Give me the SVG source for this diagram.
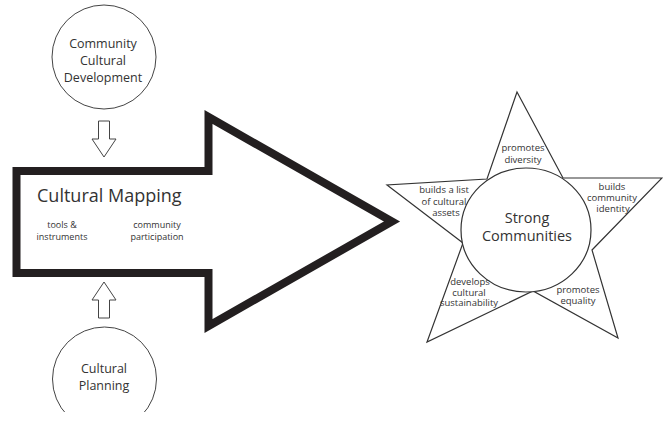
<svg xmlns="http://www.w3.org/2000/svg" width="663" height="423" viewBox="0 0 663 423">
<style>
text{font-family:"Open Sans","Noto Sans","Liberation Sans",sans-serif;fill:#333;text-anchor:middle}
.thin{fill:#fff;stroke:#444;stroke-width:1}
.small{font-size:9px}
.star{font-size:9.5px}
.big{font-size:12.5px}
</style>
<defs>
<clipPath id="pageclip"><rect x="0" y="0" width="663" height="412"/></clipPath>
</defs>
<rect width="663" height="423" fill="#fff"/>
<g id="connectors">
<polygon class="thin" points="98.5,121 109.5,121 109.5,139 116,139 104,157 92,139 98.5,139"/>
<polygon class="thin" points="98.5,318 109.5,318 109.5,300 116,300 104,282 92,300 98.5,300"/>
</g>
<g id="cultural-mapping">
<polygon points="16.5,171 208.5,171 208.5,117 392,221.5 208.5,326 208.5,273 16.5,273" fill="#fff" stroke="#231f20" stroke-width="8"/>
<text x="37" y="202" style="text-anchor:start;font-size:18px">Cultural Mapping</text>
<text class="small" x="62" y="228">tools &amp;</text>
<text class="small" x="62" y="240">instruments</text>
<text class="small" x="157" y="228">community</text>
<text class="small" x="157" y="240">participation</text>
</g>
<g id="ccd">
<circle class="thin" cx="104" cy="57" r="52"/>
<text class="big" x="103" y="48">Community</text>
<text class="big" x="103" y="65">Cultural</text>
<text class="big" x="103" y="82">Development</text>
</g>
<g id="cp">
<circle class="thin" cx="104.5" cy="379" r="52" clip-path="url(#pageclip)"/>
<text class="big" x="104" y="373">Cultural</text>
<text class="big" x="104" y="390">Planning</text>
</g>
<g id="strong-communities">
<polygon points="517,92 563,178 662,178 592,250 618,338 533,291 427,342 463,243 387,185 487,179" fill="#fff" stroke="#333" stroke-width="1.2"/>
<ellipse cx="526" cy="230" rx="65" ry="62" fill="#fff" stroke="#333" stroke-width="1.2"/>
<text x="527" y="223" style="font-size:14.5px">Strong</text>
<text x="527" y="241" style="font-size:14.5px">Communities</text>
<text class="star" x="523" y="151">promotes</text>
<text class="star" x="523" y="163">diversity</text>
<text class="star" x="444" y="193">builds a list</text>
<text class="star" x="444" y="205">of cultural</text>
<text class="star" x="446" y="216">assets</text>
<text class="star" x="612" y="190">builds</text>
<text class="star" x="612" y="201">community</text>
<text class="star" x="613" y="212">identity</text>
<text class="star" x="470" y="285">develops</text>
<text class="star" x="469" y="296">cultural</text>
<text class="star" x="469" y="306">sustainability</text>
<text class="star" x="578" y="293">promotes</text>
<text class="star" x="578" y="304">equality</text>
</g>
</svg>
